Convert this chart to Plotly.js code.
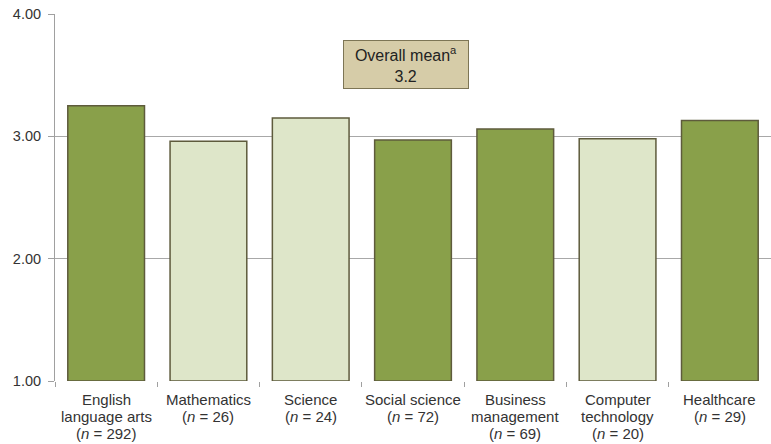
<!DOCTYPE html>
<html>
<head>
<meta charset="utf-8">
<script src="https://cdn.plot.ly/plotly-3.0.1.min.js"></script>
<style>
html,body{margin:0;padding:0;background:#fff;}
#chart{width:771px;height:444px;}
</style>
</head>
<body>
<div id="chart"></div>
<script>
const categories = ["English language arts", "Mathematics", "Science", "Social science", "Business management", "Computer technology", "Healthcare"];
const tickLabels = [
  "English<br>language arts<br>(<i>n</i> = 292)",
  "Mathematics<br>(<i>n</i> = 26)",
  "Science<br>(<i>n</i> = 24)",
  "Social science<br>(<i>n</i> = 72)",
  "Business<br>management<br>(<i>n</i> = 69)",
  "Computer<br>technology<br>(<i>n</i> = 20)",
  "Healthcare<br>(<i>n</i> = 29)"
];
const meanValues = [3.25, 2.96, 3.15, 2.97, 3.06, 2.98, 3.13];
const highlighted = [true, false, false, true, true, false, true];
const overallMean = "3.2";

const darkGreen = "#89a04a";
const lightGreen = "#dee6c9";

const trace = {
  type: "bar",
  x: categories,
  y: meanValues.map(v => v - 1),
  base: 1,
  marker: {
    color: highlighted.map(h => h ? darkGreen : lightGreen),
    line: {color: "#5e5b3c", width: 1.5}
  },
  hoverinfo: "skip"
};

const annotations = [{
  xref: "paper",
  yref: "y",
  x: 0.49,
  y: 3.59,
  text: "Overall mean<sup>a</sup><br>" + overallMean,
  showarrow: false,
  font: {size: 16, color: "#222222"},
  bgcolor: "#d6cca8",
  bordercolor: "#7d7555",
  borderwidth: 1,
  borderpad: 2,
  width: 120,
  height: 43,
  align: "center",
  valign: "middle"
}];

// category labels, one annotation per line
tickLabels.forEach((label, i) => {
  label.split("<br>").forEach((line, j) => {
    annotations.push({
      xref: "x",
      yref: "paper",
      x: categories[i],
      y: 0,
      yanchor: "middle",
      yshift: -18 - j * 17,
      text: line,
      showarrow: false,
      borderpad: 0,
      font: {size: 15, color: "#333333"}
    });
  });
});

const layout = {
  width: 771,
  height: 444,
  margin: {l: 55, r: 0, t: 14, b: 63},
  paper_bgcolor: "#ffffff",
  plot_bgcolor: "#ffffff",
  bargap: 0.25,
  showlegend: false,
  font: {family: "Liberation Sans, Arial, sans-serif", color: "#333333", size: 14},
  xaxis: {
    type: "category",
    tickvals: categories,
    showticklabels: false,
    tickson: "boundaries",
    ticks: "outside",
    ticklen: 5,
    tickcolor: "#a0a0a0",
    showline: false,
    showgrid: false,
    fixedrange: true
  },
  yaxis: {
    range: [1, 4],
    tickvals: [1, 2, 3, 4],
    ticktext: ["1.00", "2.00", "3.00", "4.00"],
    ticks: "outside",
    ticklen: 6,
    tickcolor: "#a0a0a0",
    showline: true,
    linecolor: "#a0a0a0",
    linewidth: 1,
    showgrid: true,
    gridcolor: "#a8a8a8",
    gridwidth: 1,
    zeroline: false,
    tickfont: {size: 14.5, color: "#333333"},
    ticklabelstandoff: 4,
    fixedrange: true
  },
  annotations: annotations
};

Plotly.newPlot("chart", [trace], layout, {displayModeBar: false, staticPlot: true});
</script>
</body>
</html>
